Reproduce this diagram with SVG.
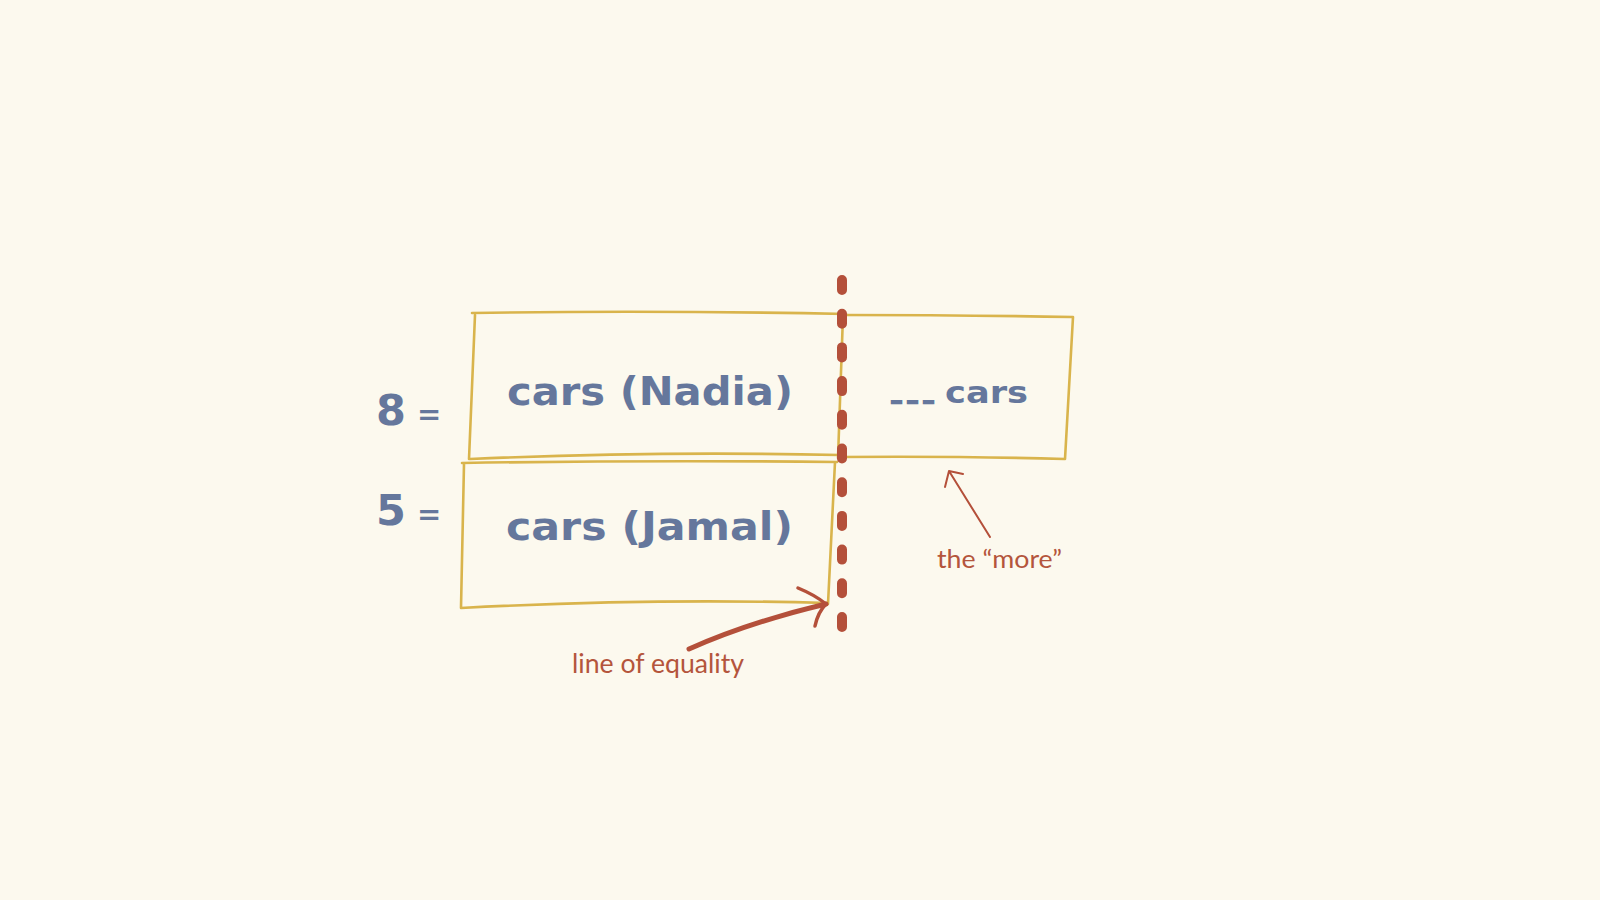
<svg xmlns="http://www.w3.org/2000/svg" width="1600" height="900" viewBox="0 0 1600 900">
<style>
.box{fill:none;stroke:#d9b44c;stroke-width:2.6;stroke-linecap:round;stroke-linejoin:round}
.lbl{font-family:"DejaVu Sans","Open Sans",sans-serif;font-weight:700;fill:#65779c}
.note{font-family:Lato,"Liberation Sans",sans-serif;font-weight:400;fill:#b4553c}
.red{fill:none;stroke:#b4503a;stroke-linecap:round;stroke-linejoin:round}
</style>
<rect width="1600" height="900" fill="#fcf9ee"/>
<g id="eq8">
<text class="lbl" x="376" y="425" font-size="43">8</text>
<text class="lbl" x="417" y="424" font-size="29">=</text>
</g>
<g id="eq5">
<text class="lbl" x="376" y="525" font-size="43">5</text>
<text class="lbl" x="417" y="524" font-size="29">=</text>
</g>
<g id="nadia">
<path class="box" d="M472 313 Q650 310 846 314 M475 315 L469 459 M470 459 Q650 451 840 455"/>
<text class="lbl" x="507" y="405" font-size="39" textLength="286" lengthAdjust="spacingAndGlyphs">cars (Nadia)</text>
</g>
<g id="jamal">
<path class="box" d="M462 463 Q650 460 837 462 M464 464 L461 608 M461 608 Q650 598 828 603 M835 462 L828 604"/>
<text class="lbl" x="506" y="540" font-size="39" textLength="287" lengthAdjust="spacingAndGlyphs">cars (Jamal)</text>
</g>
<g id="more">
<path class="box" d="M840 315 Q960 315 1073 317 L1065 459 Q960 456 838 457 M843 315 L838 458"/>
<text class="lbl" x="892" y="399" font-size="18" letter-spacing="7" stroke="#65779c" stroke-width="2.5">___</text>
<text class="lbl" x="945" y="403" font-size="31" textLength="83" lengthAdjust="spacingAndGlyphs">cars</text>
</g>
<g id="connectors">
<line x1="842" y1="280" x2="842" y2="628" stroke="#b4503a" stroke-width="10" stroke-linecap="round" stroke-dasharray="10 23.7"/>
<path class="red" stroke-width="5" d="M689 649 Q750 622 826 604"/>
<path class="red" stroke-width="3.5" d="M798 588 Q815 595 826 604 Q818 612 815 626"/>
<path class="red" stroke-width="2" d="M990 537 L949 471 M945 487 L949 471 L963 474"/>
</g>
<g id="notes">
<text class="note" x="937" y="568" font-size="25" textLength="125" lengthAdjust="spacingAndGlyphs">the “more”</text>
<text class="note" x="572" y="673" font-size="27" textLength="172" lengthAdjust="spacingAndGlyphs">line of equality</text>
</g>
</svg>
